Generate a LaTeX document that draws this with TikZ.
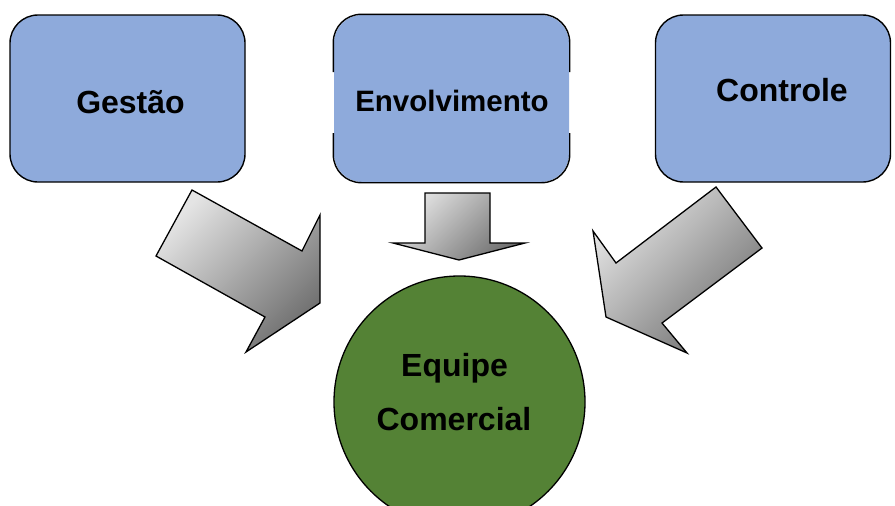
\documentclass[tikz,border=0pt]{standalone}
\usepackage{fontspec}
\usetikzlibrary{shapes.geometric}
\setmainfont{Liberation Sans}
\definecolor{boxblue}{RGB}{142,170,219}
\definecolor{teamgreen}{RGB}{84,130,53}
\definecolor{arrowlight}{RGB}{228,228,228}
\definecolor{arrowdark}{RGB}{112,112,112}
\begin{document}
\begin{tikzpicture}[x=1pt,y=-1pt,
  box/.style={draw=black,line width=1.4pt,fill=boxblue,rounded corners=28pt,
    minimum width=235pt,minimum height=167pt,inner sep=0pt},
  lbl/.style={font=\bfseries\fontsize{32}{38}\selectfont,anchor=base,inner sep=0pt},
  blockarrow/.style={draw=black,line width=1.3pt,line join=miter,
    top color=arrowlight,bottom color=arrowdark,shading angle=45}]
\useasboundingbox (0,0) rectangle (895,506);
\clip (0,0) rectangle (895,506);

% source boxes
\node[box] (gestao) at (127.5,98.5) {};
\node[box] (controle) at (773,98.5) {};
\node[box,draw=none] (envolv) at (451.5,98.5) {};
% the middle box outline is broken along its sides
\draw[line width=1.4pt,rounded corners=28pt]
  (envolv.west |- 0,72) -- (envolv.north west) -- (envolv.north east) -- (envolv.east |- 0,72);
\draw[line width=1.4pt,rounded corners=28pt]
  (envolv.west |- 0,133) -- (envolv.south west) -- (envolv.south east) -- (envolv.east |- 0,133);

\node[lbl] (tgestao) at (130.5,113) {Gestão};
\node[lbl,font=\bfseries\fontsize{29.5}{35}\selectfont] (tenvolv) at (452,111) {Envolvimento};
\node[lbl] (tcontrole) at (782,101) {Controle};

% target circle
\node[draw=black,line width=1.3pt,fill=teamgreen,ellipse,minimum width=251pt,minimum height=252pt,inner sep=0pt]
  (equipe) at (459.5,402) {};
\node[lbl] (tequipe1) at (454.5,376.5) {Equipe};
\node[lbl] (tequipe2) at (454,430) {Comercial};

% block arrows pointing at the team
\path[blockarrow] (192,190) -- (302,251) -- (320,215) -- (320,303) -- (246,352) -- (265,317) -- (156,256) -- cycle;
\path[blockarrow] (425,193) -- (490,193) -- (490,243) -- (525,243) -- (459,260) -- (393,243) -- (425,243) -- cycle;
\path[blockarrow] (716,187) -- (762,248) -- (662,323) -- (687,353) -- (606,317) -- (593,231) -- (616,263) -- cycle;
\end{tikzpicture}
\end{document}
